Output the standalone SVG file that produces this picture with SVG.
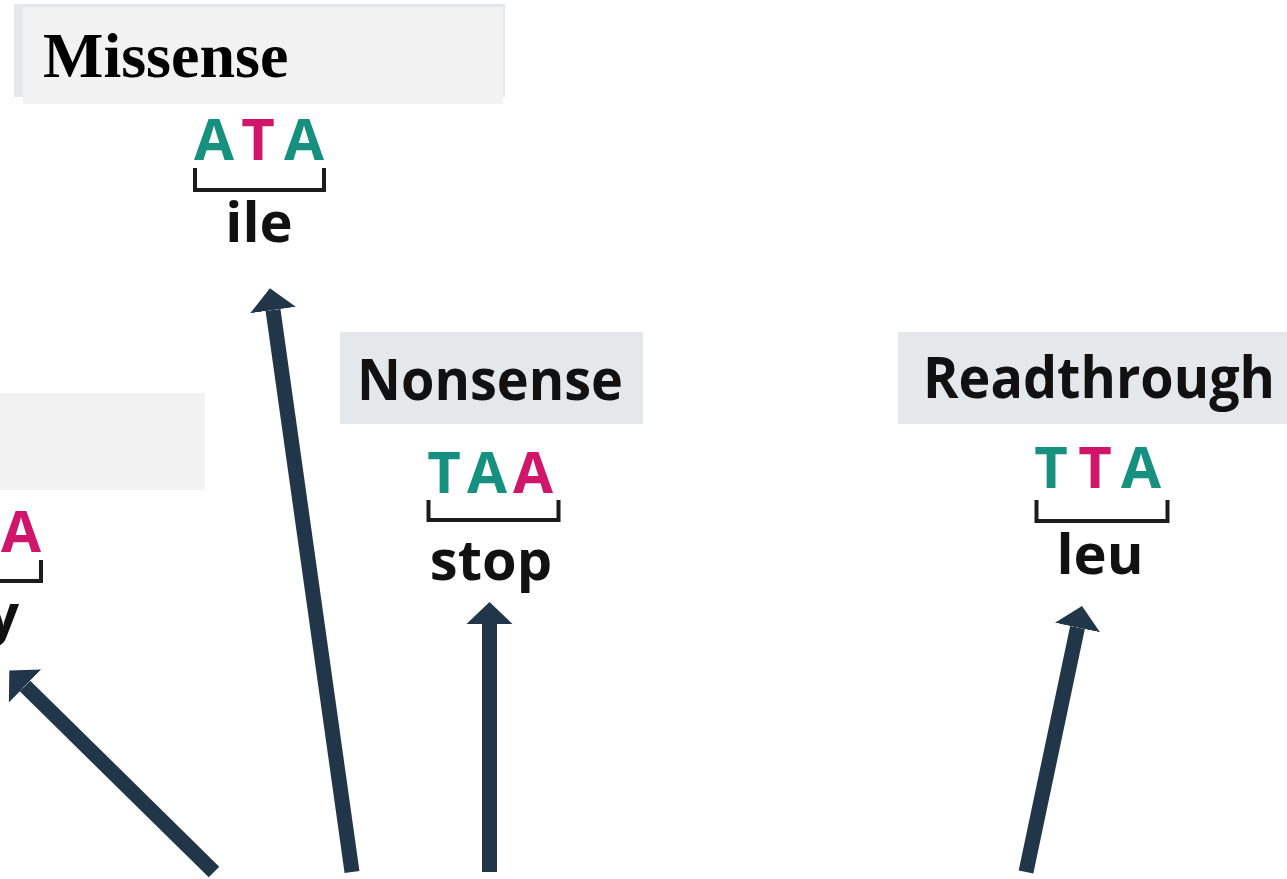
<svg xmlns="http://www.w3.org/2000/svg" width="1287" height="879" viewBox="0 0 1287 879">
  <style>
    .hdr { font-family: "Open Sans", "Noto Sans", "DejaVu Sans", sans-serif; font-weight: 700; font-size: 58px; fill: #111; }
    .serif-hdr { font-family: "Liberation Serif", "Times New Roman", serif; font-weight: 700; font-size: 64px; fill: #000; }
    .base { font-family: "Open Sans", "Noto Sans", "DejaVu Sans", sans-serif; font-weight: 700; font-size: 58px; text-anchor: middle; }
    .wt { fill: #16917f; }
    .mut { fill: #d0156b; }
    .aa { font-family: "Open Sans", "Noto Sans", "DejaVu Sans", sans-serif; font-weight: 700; font-size: 56px; fill: #111; text-anchor: middle; }
    .bracket { fill: none; stroke: #1c1c1c; stroke-width: 4; }
    .shaft { stroke: #22364a; stroke-width: 15; fill: none; marker-end: url(#head); }
    .box { fill: #e5e8eb; }
    .box-light { fill: #f2f2f2; }
  </style>
  <defs>
    <marker id="head" markerUnits="userSpaceOnUse" viewBox="0 -23 22 46" refX="0" refY="0" markerWidth="22" markerHeight="46" orient="auto">
      <path d="M0,-23 L22,0 L0,23 Z" fill="#22364a"/>
    </marker>
  </defs>

  <rect width="1287" height="879" fill="#ffffff"/>

  <!-- Missense: ATA -> ile -->
  <g id="missense">
    <rect class="box" x="14" y="4" width="491" height="93"/>
    <rect class="box-light" x="23" y="7" width="480" height="97"/>
    <text class="serif-hdr" x="43" y="77">Missense</text>
    <text class="base wt" x="214" y="160">A</text>
    <text class="base mut" x="258" y="160">T</text>
    <text class="base wt" x="304" y="160">A</text>
    <path class="bracket" d="M195,168 V190 H324 V168"/>
    <text class="aa" x="259" y="242">ile</text>
  </g>

  <!-- Silent (mostly off the left edge) -->
  <g id="silent">
    <rect class="box-light" x="0" y="393" width="205" height="97"/>
    <text class="base mut" x="21" y="552">A</text>
    <path class="bracket" d="M0,581 H41 V560"/>
    <text class="aa" x="19" y="634" style="text-anchor:end">y</text>
  </g>

  <!-- Nonsense: TAA -> stop -->
  <g id="nonsense">
    <rect class="box" x="340" y="332" width="303" height="92"/>
    <text class="hdr" x="490" y="400" text-anchor="middle" textLength="266" lengthAdjust="spacingAndGlyphs">Nonsense</text>
    <text class="base wt" x="444" y="493">T</text>
    <text class="base wt" x="487" y="493">A</text>
    <text class="base mut" x="533" y="493">A</text>
    <path class="bracket" d="M428.5,500 V520 H558.5 V500"/>
    <text class="aa" x="491" y="580">stop</text>
  </g>

  <!-- Readthrough: TTA -> leu -->
  <g id="readthrough">
    <rect class="box" x="898" y="332" width="389" height="92"/>
    <text class="hdr" x="1099" y="398" text-anchor="middle" textLength="352" lengthAdjust="spacingAndGlyphs">Readthrough</text>
    <text class="base wt" x="1051" y="488">T</text>
    <text class="base mut" x="1095" y="488">T</text>
    <text class="base wt" x="1141" y="488">A</text>
    <path class="bracket" d="M1036.5,500 V521 H1167.5 V500"/>
    <text class="aa" x="1100" y="574">leu</text>
  </g>

  <!-- Arrows pointing up to each outcome -->
  <g id="connectors">
    <line class="shaft" x1="214" y1="872" x2="25" y2="686"/>
    <line class="shaft" x1="352" y1="872" x2="273" y2="310"/>
    <line class="shaft" x1="489.5" y1="872" x2="489.5" y2="624"/>
    <line class="shaft" x1="1026" y1="872" x2="1077.5" y2="627.5"/>
  </g>
</svg>
